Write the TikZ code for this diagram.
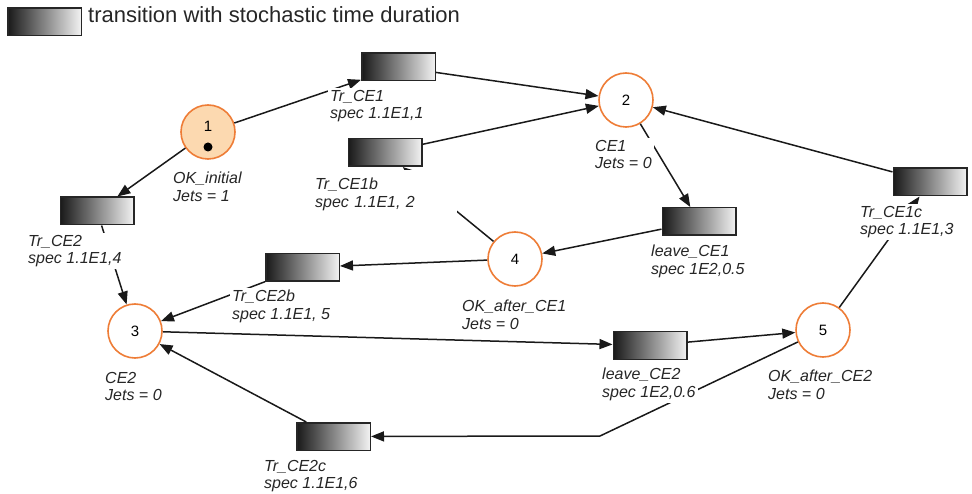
\documentclass[tikz,border=0pt]{standalone}
\usepackage{fontspec}
\setmainfont{Liberation Sans}
\usetikzlibrary{arrows.meta}
\definecolor{placeorange}{RGB}{238,125,55}
\definecolor{tokenfill}{RGB}{252,217,176}
\begin{document}
\begin{tikzpicture}[x=1pt,y=-1pt,
  place/.style={circle,draw=placeorange,line width=1.6pt,fill=white,minimum size=54pt,inner sep=0pt,font=\fontsize{15}{15}\selectfont},
  trans/.style={rectangle,draw=black!85,line width=1.5pt,minimum width=73.5pt,minimum height=27.5pt,inner sep=0pt,left color=black!90,right color=black!5},
  lab/.style={anchor=north west,align=left,fill=white,inner sep=2pt,text=black!85,font=\itshape\fontsize{16}{17.5}\selectfont},
  arc/.style={line width=1.5pt,black!90,-{Triangle[length=13pt,width=10pt]}}]
\useasboundingbox (0,0) rectangle (972,494);
% legend
\node[trans] (legend) at (44.5,22) {};
\node[anchor=base west,inner sep=0pt,text=black!85,font=\fontsize{22}{22}\selectfont] (legendtext) at (88,22.5) {transition with stochastic time duration};
% places
\node[place,fill=tokenfill] (OKinit) at (208,132) {};
\node[font=\fontsize{15}{15}\selectfont] (OKinitnum) at (208,126) {1};
\node[circle,fill=black,minimum size=9pt,inner sep=0pt] (token) at (208,147) {};
\node[place] (CEone) at (626,100) {2};
\node[place] (CEtwo) at (135,331) {3};
\node[place] (OKafterone) at (515,259) {4};
\node[place] (OKaftertwo) at (823,330) {5};
% transitions
\node[trans] (trCEone) at (398.5,67) {};
\node[trans] (trCEoneb) at (385,152.5) {};
\node[trans] (trCEtwo) at (97,211) {};
\node[trans] (trCEtwob) at (302.5,267.5) {};
\node[trans] (trCEtwoc) at (333.5,436.5) {};
\node[trans] (leaveCEone) at (699,221.5) {};
\node[trans] (trCEonec) at (930,182) {};
\node[trans] (leaveCEtwo) at (650,345.5) {};
\coordinate (kink) at (600,436);
% arcs
\foreach \a/\b in {OKinit/trCEone, trCEone/CEone, trCEoneb/CEone, OKinit/trCEtwo,
  trCEtwo/CEtwo, CEone/leaveCEone, leaveCEone/OKafterone, OKafterone/trCEtwob,
  OKafterone/trCEoneb, trCEtwob/CEtwo, CEtwo/leaveCEtwo, leaveCEtwo/OKaftertwo,
  OKaftertwo/trCEonec, trCEonec/CEone, trCEtwoc/CEtwo}
  \draw[arc] (\a) -- (\b);
\draw[arc] (OKaftertwo) -- (kink) -- (trCEtwoc);
% labels
\node[lab] (lTrCEone) at (328,88) {Tr\_CE1\\spec 1.1E1,1};
\node[lab,inner ysep=8pt,text width=140pt] (lTrCEoneb) at (313,170) {Tr\_CE1b\\spec 1.1E1, 2};
\node[lab] (lOKinit) at (171,170) {OK\_initial\\Jets = 1};
\node[lab] (lTrCEtwo) at (26,233) {Tr\_CE2\\spec 1.1E1,4};
\node[lab] (lTrCEtwob) at (230,288) {Tr\_CE2b\\spec 1.1E1, 5};
\node[lab] (lCEtwo) at (103,370) {CE2\\Jets = 0};
\node[lab] (lTrCEtwoc) at (262,458) {Tr\_CE2c\\spec 1.1E1,6};
\node[lab] (lCEone) at (593,138) {CE1\\Jets = 0};
\node[lab] (lleaveCEone) at (649,243) {leave\_CE1\\spec 1E2,0.5};
\node[lab] (lTrCEonec) at (858,204) {Tr\_CE1c\\spec 1.1E1,3};
\node[lab] (lOKafterone) at (460,298) {OK\_after\_CE1\\Jets = 0};
\node[lab] (lleaveCEtwo) at (600,366) {leave\_CE2\\spec 1E2,0.6};
\node[lab] (lOKaftertwo) at (766,368) {OK\_after\_CE2\\Jets = 0};
\end{tikzpicture}
\end{document}
